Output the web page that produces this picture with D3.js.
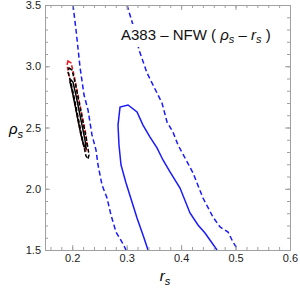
<!DOCTYPE html>
<html>
<head>
<meta charset="utf-8">
<script src="https://cdn.jsdelivr.net/npm/d3@7"></script>
<style>
  body { margin: 0; background: #fff; }
  svg { font-family: "Liberation Sans", Arial, sans-serif; }
</style>
</head>
<body>
<script>
// axis ticks
var xTicks = [0.2, 0.3, 0.4, 0.5, 0.6],
  yTicks = [1.5, 2.0, 2.5, 3.0, 3.5];

// blue dashed contour, left branch
var blueDashLeft = [
  [0.2014, 3.5], [0.207, 3.296], [0.2143, 2.994], [0.2217, 2.765], [0.229, 2.643],
  [0.2363, 2.439], [0.2437, 2.316], [0.2474, 2.194], [0.2547, 2.031], [0.2639, 1.924],
  [0.2712, 1.786], [0.2804, 1.647], [0.2914, 1.565], [0.2988, 1.5]
];
// blue dashed contour, right branch
var blueDashRight = [
  [0.3006, 3.5], [0.3116, 3.337], [0.3227, 3.133], [0.3374, 2.945], [0.3484, 2.847],
  [0.3649, 2.7], [0.3741, 2.545], [0.3851, 2.463], [0.3943, 2.357], [0.4072, 2.251],
  [0.4219, 2.129], [0.4402, 1.924], [0.4586, 1.769], [0.4715, 1.688], [0.4862, 1.647],
  [0.4953, 1.565], [0.5045, 1.5]
];
// blue solid contour
var blueSolid = [
  [0.3392, 1.5], [0.33, 1.622], [0.319, 1.761], [0.3098, 1.892], [0.2988, 2.047],
  [0.2896, 2.194], [0.2859, 2.357], [0.2841, 2.52], [0.2878, 2.667], [0.3025, 2.684],
  [0.319, 2.627], [0.33, 2.52], [0.3429, 2.422], [0.3557, 2.333], [0.3667, 2.235],
  [0.3796, 2.137], [0.398, 2.006], [0.4163, 1.802], [0.431, 1.704], [0.4439, 1.639],
  [0.4659, 1.5]
];
// red dashed contour
var redDash = [
  [0.1922, 3.043], [0.1978, 3.027], [0.2033, 2.929], [0.2088, 2.806], [0.2143, 2.684],
  [0.2198, 2.561], [0.2253, 2.439], [0.2271, 2.357], [0.2253, 2.316], [0.2216, 2.341],
  [0.2161, 2.439], [0.2106, 2.561], [0.2051, 2.684], [0.1996, 2.806], [0.1941, 2.929],
  [0.1904, 3.01]
];
// black dashed contour
var blackDash = [
  [0.1941, 2.986], [0.1996, 2.969], [0.2051, 2.871], [0.2106, 2.749], [0.2161, 2.627],
  [0.2216, 2.504], [0.2271, 2.382], [0.2308, 2.276], [0.229, 2.243], [0.2253, 2.267],
  [0.2198, 2.382], [0.2143, 2.504], [0.2088, 2.627], [0.2033, 2.749], [0.1978, 2.863],
  [0.1922, 2.953]
];
// black solid contour
var blackSolid = [
  [0.1978, 2.888], [0.2014, 2.871], [0.2069, 2.765], [0.2124, 2.643], [0.218, 2.52],
  [0.2235, 2.398], [0.2253, 2.333], [0.2216, 2.349], [0.2161, 2.439], [0.2106, 2.561],
  [0.2051, 2.684], [0.1996, 2.806], [0.1959, 2.871]
];

var width = 300,
  height = 290;

var svg = d3.select("body")
  .append("svg")
  .attr("width", width)
  .attr("height", height);

var x = d3.scaleLinear().domain([0.15, 0.6]).range([45, 290]);
var y = d3.scaleLinear().domain([1.5, 3.5]).range([250, 5]);

var frameColor = "#a0a0a0";

//clip plotting region
svg.append("clipPath").attr("id", "clip")
  .append("rect")
  .attr("x", 45).attr("y", 5)
  .attr("width", 245).attr("height", 245);

var line = d3.line()
  .x(function(d) { return x(d[0]); })
  .y(function(d) { return y(d[1]); });

var lineClosed = d3.line()
  .x(function(d) { return x(d[0]); })
  .y(function(d) { return y(d[1]); })
  .curve(d3.curveLinearClosed);

var plot = svg.append("g").attr("clip-path", "url(#clip)");

plot.append("path").datum(blueDashLeft)
  .attr("d", line).attr("fill", "none")
  .attr("stroke", "#1a1aff").attr("stroke-width", 1.5)
  .attr("stroke-dasharray", "5,3");

plot.append("path").datum(blueDashRight)
  .attr("d", line).attr("fill", "none")
  .attr("stroke", "#1a1aff").attr("stroke-width", 1.5)
  .attr("stroke-dasharray", "5,3");

plot.append("path").datum(blueSolid)
  .attr("d", line).attr("fill", "none")
  .attr("stroke", "#1a1aff").attr("stroke-width", 1.5);

plot.append("path").datum(redDash)
  .attr("d", lineClosed).attr("fill", "none")
  .attr("stroke", "#e8141c").attr("stroke-width", 1.5)
  .attr("stroke-dasharray", "4,2");

plot.append("path").datum(blackDash)
  .attr("d", lineClosed).attr("fill", "none")
  .attr("stroke", "#000").attr("stroke-width", 1.5)
  .attr("stroke-dasharray", "4,2");

plot.append("path").datum(blackSolid)
  .attr("d", lineClosed).attr("fill", "none")
  .attr("stroke", "#000").attr("stroke-width", 1.5);

//frame axes, ticks inward
var xMinor = d3.range(0.16, 0.6, 0.02),
  yMinor = d3.range(1.6, 3.5, 0.1);

function drawAxis(axis, transform, showLabels) {
  var g = svg.append("g").attr("transform", transform).call(axis);
  g.select(".domain").attr("stroke", frameColor).attr("stroke-width", 1);
  g.selectAll(".tick line").attr("stroke", frameColor);
  if (!showLabels) g.selectAll(".tick text").remove();
  return g;
}

// minor ticks
drawAxis(d3.axisBottom(x).tickValues(xMinor).tickSizeInner(-3).tickSizeOuter(0).tickFormat(""), "translate(0,250)", false);
drawAxis(d3.axisTop(x).tickValues(xMinor).tickSizeInner(-3).tickSizeOuter(0).tickFormat(""), "translate(0,5)", false);
drawAxis(d3.axisLeft(y).tickValues(yMinor).tickSizeInner(-3).tickSizeOuter(0).tickFormat(""), "translate(45,0)", false);
drawAxis(d3.axisRight(y).tickValues(yMinor).tickSizeInner(-3).tickSizeOuter(0).tickFormat(""), "translate(290,0)", false);

// major ticks
drawAxis(d3.axisBottom(x).tickValues(xTicks).tickSizeInner(-5).tickSizeOuter(0).tickPadding(4).tickFormat(d3.format(".1f")), "translate(0,250)", true);
drawAxis(d3.axisTop(x).tickValues(xTicks).tickSizeInner(-5).tickSizeOuter(0), "translate(0,5)", false);
drawAxis(d3.axisLeft(y).tickValues(yTicks).tickSizeInner(-5).tickSizeOuter(0).tickPadding(4).tickFormat(d3.format(".1f")), "translate(45,0)", true);
drawAxis(d3.axisRight(y).tickValues(yTicks).tickSizeInner(-5).tickSizeOuter(0), "translate(290,0)", false);

svg.selectAll(".tick text")
  .attr("font-family", "Liberation Sans, Arial, sans-serif")
  .attr("font-size", 11)
  .attr("fill", "#222");

//axis titles
var xt = svg.append("text")
  .attr("x", 165).attr("y", 281)
  .attr("text-anchor", "middle")
  .attr("font-size", 15)
  .attr("font-style", "italic");
xt.append("tspan").text("r");
xt.append("tspan").attr("dy", 4).attr("font-size", 11).text("s");

var yt = svg.append("text")
  .attr("x", 9).attr("y", 134)
  .attr("font-size", 15)
  .attr("font-style", "italic");
yt.append("tspan").text("ρ");
yt.append("tspan").attr("dy", 4).attr("font-size", 11).text("s");

//chart title with white backing
var titleBg = svg.append("rect").attr("fill", "#fff");
var title = svg.append("text")
  .attr("x", 121).attr("y", 40)
  .attr("font-size", 15)
  .attr("fill", "#111");
title.append("tspan").text("A383 – NFW ( ");
title.append("tspan").attr("font-style", "italic").text("ρ");
title.append("tspan").attr("font-style", "italic").attr("font-size", 11).attr("dy", 3).text("s");
title.append("tspan").attr("dy", -3).text(" – ");
title.append("tspan").attr("font-style", "italic").text("r");
title.append("tspan").attr("font-style", "italic").attr("font-size", 11).attr("dy", 3).text("s");
title.append("tspan").attr("dy", -3).text(" )");
var tb = title.node().getBBox();
titleBg.attr("x", tb.x - 2).attr("y", tb.y - 2)
  .attr("width", tb.width + 4).attr("height", tb.height + 4);
</script>
</body>
</html>
